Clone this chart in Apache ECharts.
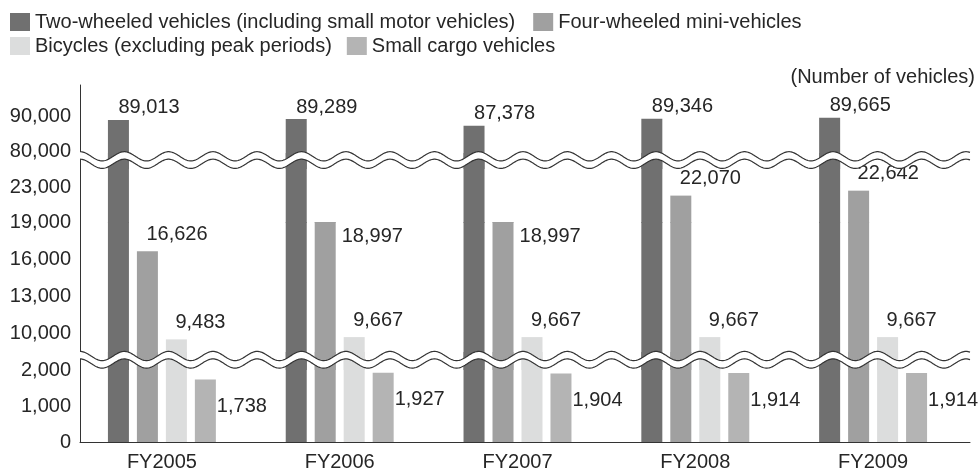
<!DOCTYPE html>
<html>
<head>
<meta charset="utf-8">
<script src="https://cdn.jsdelivr.net/npm/echarts@6/dist/echarts.min.js"></script>
<style>
  html, body { margin: 0; padding: 0; background: #fff; }
  #main { width: 978px; height: 472px; }
</style>
</head>
<body>
<div id="main"></div>
<script>
// values
const categories = ['FY2005', 'FY2006', 'FY2007', 'FY2008', 'FY2009'];
const twoWheeled = [89013, 89289, 87378, 89346, 89665];
const fourWheeledMini = [16626, 18997, 18997, 22070, 22642];
const bicycles = [9483, 9667, 9667, 9667, 9667];
const smallCargo = [1738, 1927, 1904, 1914, 1914];
const yTickValues = [0, 1000, 2000, 10000, 13000, 16000, 19000, 23000, 80000, 90000];

const chart = echarts.init(document.getElementById('main'));
const FONT = "'Liberation Sans', Arial, Helvetica, sans-serif";
const TEXT = '#262626';
const LINE = '#333';

// broken y axis: each piece of the axis is its own grid, stacked
const segments = [
  { min: 0, max: 2500, top: 352, height: 90 },
  { min: 7000, max: 19000, top: 222, height: 148 },
  { min: 18900, max: 27000, top: 153, height: 70 },
  { min: 75000, max: 99000, top: 85, height: 84 }
];

const fmt = v => Number(v).toLocaleString('en-US');
const above = (dx, dy) => ({ position: ['50%', 0], align: 'left', verticalAlign: 'middle', offset: [dx, dy] });
const beside = (dx, dy) => ({ position: ['100%', 0], align: 'left', verticalAlign: 'middle', offset: [dx, dy] });
const fourWheelBeside = [1, 2]; // these two labels sit next to the bar

const seriesDefs = [
  { name: 'Two-wheeled vehicles (including small motor vehicles)', data: twoWheeled, color: '#707070',
    label: i => above(0, -12) },
  { name: 'Four-wheeled mini-vehicles', data: fourWheeledMini, color: '#a0a0a0',
    label: i => fourWheelBeside.includes(i) ? beside(6, 14) : above(-1, -17) },
  { name: 'Bicycles (excluding peak periods)', data: bicycles, color: '#dcdddd',
    label: i => above(-1, -17) },
  { name: 'Small cargo vehicles', data: smallCargo, color: '#b4b4b4',
    label: i => beside(1, 27) }
];

// first piece of the axis that holds a value
function segOf(v) {
  return segments.findIndex(s => v >= s.min && v <= s.max);
}

const textStyle = { fontFamily: FONT, fontSize: 20, color: TEXT };

const grid = [{ left: 80, right: 8, top: 85, bottom: 30 }];
const xAxis = [{
  gridIndex: 0, type: 'value', min: 0, max: 1,
  axisLine: { show: true, lineStyle: { color: LINE, width: 1 } },
  axisTick: { show: false }, axisLabel: { show: false }, splitLine: { show: false }
}];
const yAxis = [{
  gridIndex: 0, type: 'value', min: 0, max: 1,
  axisLine: { show: true, lineStyle: { color: LINE, width: 1 } },
  axisTick: { show: false }, axisLabel: { show: false }, splitLine: { show: false }
}];
const series = [];

segments.forEach((seg, s) => {
  grid.push({ left: 73, right: 16, top: seg.top, height: seg.height });
  xAxis.push({
    gridIndex: s + 1, type: 'category', data: categories, show: s === 0,
    axisLine: { show: false }, axisTick: { show: false },
    axisLabel: Object.assign({ margin: 10 }, textStyle)
  });
  yAxis.push({
    gridIndex: s + 1, type: 'value', min: seg.min, max: seg.max,
    axisLine: { show: false }, axisTick: { show: false }, splitLine: { show: false },
    axisLabel: Object.assign({
      customValues: yTickValues.filter(v => segOf(v) === s),
      formatter: v => fmt(v), margin: 2
    }, textStyle)
  });
  seriesDefs.forEach(def => {
    series.push({
      type: 'bar', name: def.name, xAxisIndex: s + 1, yAxisIndex: s + 1,
      barWidth: 21, barGap: '38%', clip: true, silent: true,
      itemStyle: { color: def.color },
      label: Object.assign({ formatter: p => fmt(p.value) }, textStyle),
      data: def.data.map((v, i) => ({
        value: v,
        label: Object.assign({ show: segOf(v) === s }, def.label(i))
      }))
    });
  });
});

// wavy break marks
const AMP = 4.6, PERIOD = 44.3;
function wave(y0, x0, x1) {
  const pts = [];
  for (let x = x0; x <= x1; x += 1) {
    pts.push([x, y0 - AMP * Math.cos(2 * Math.PI * (x - 80) / PERIOD)]);
  }
  return pts;
}
const graphic = [];
[156.3, 356].forEach(y => {
  const upper = wave(y, 78, 971);
  const lower = wave(y + 7.5, 78, 971);
  graphic.push({ type: 'polygon', silent: true, z: 100,
    shape: { points: upper.concat(lower.slice().reverse()) }, style: { fill: '#fff' } });
  [upper, lower].forEach(line => {
    graphic.push({ type: 'polyline', silent: true, z: 101,
      shape: { points: line.filter(p => p[0] >= 80 && p[0] <= 970) },
      style: { stroke: LINE, lineWidth: 1.2, fill: null } });
  });
});

const names = seriesDefs.map(d => d.name);
const legendBase = {
  left: 10, padding: 0, itemWidth: 20, itemHeight: 18, icon: 'rect',
  selectedMode: false, textStyle: textStyle
};

chart.setOption({
  animation: false,
  title: {
    text: '(Number of vehicles)', right: 3, top: 67, padding: 0,
    textStyle: Object.assign({ fontWeight: 'normal' }, textStyle)
  },
  legend: [
    Object.assign({ top: 12, itemGap: 18, data: names.slice(0, 2) }, legendBase),
    Object.assign({ top: 36, itemGap: 15, data: names.slice(2) }, legendBase)
  ],
  grid: grid,
  xAxis: xAxis,
  yAxis: yAxis,
  series: series,
  graphic: graphic
});
</script>
</body>
</html>
